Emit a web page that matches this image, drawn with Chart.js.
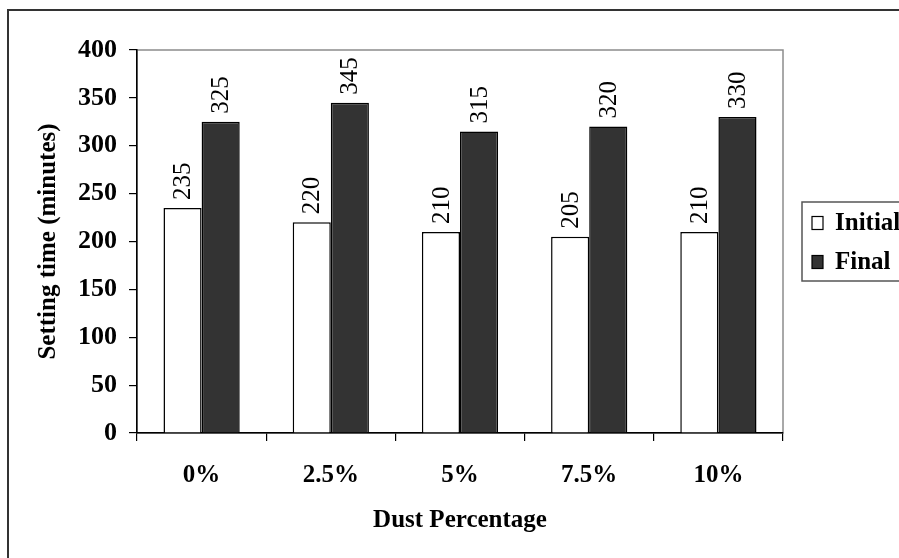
<!DOCTYPE html>
<html>
<head>
<meta charset="utf-8">
<script src="https://cdn.jsdelivr.net/npm/chart.js@4/dist/chart.umd.min.js"></script>
<style>
  body { margin: 0; background: #fff; }
</style>
</head>
<body>
<canvas id="chart" width="899" height="558"></canvas>
<script>
// data
const categories = ['0%', '2.5%', '5%', '7.5%', '10%'];
const initialTimes = [235, 220, 210, 205, 210];
const finalTimes = [325, 345, 315, 320, 330];
const yTicks = [0, 50, 100, 150, 200, 250, 300, 350, 400];

const serif = "'Liberation Serif', 'Times New Roman', serif";

// white page, outer frame and grey plot border
const framePlugin = {
  id: 'frame',
  beforeDraw(chart) {
    const ctx = chart.ctx, a = chart.chartArea;
    ctx.save();
    ctx.fillStyle = '#fff';
    ctx.fillRect(0, 0, chart.width, chart.height);
    ctx.strokeStyle = '#333';
    ctx.lineWidth = 2;
    ctx.beginPath();
    ctx.moveTo(8, chart.height + 5);
    ctx.lineTo(8, 10);
    ctx.lineTo(chart.width + 5, 10);
    ctx.stroke();
    ctx.strokeStyle = '#8c8c8c';
    ctx.lineWidth = 1.5;
    ctx.strokeRect(a.left, a.top, a.right - a.left, a.bottom - a.top);
    ctx.restore();
  }
};

// vertical value labels above each bar
const valueLabels = {
  id: 'valueLabels',
  afterDatasetsDraw(chart) {
    const ctx = chart.ctx;
    ctx.save();
    ctx.fillStyle = '#000';
    ctx.font = '25px ' + serif;
    ctx.textAlign = 'left';
    ctx.textBaseline = 'middle';
    chart.data.datasets.forEach((ds, i) => {
      chart.getDatasetMeta(i).data.forEach((bar, j) => {
        ctx.save();
        ctx.translate(bar.x, bar.y - 8);
        ctx.rotate(-Math.PI / 2);
        ctx.fillText(String(ds.data[j]), 0, 1);
        ctx.restore();
      });
    });
    ctx.restore();
  }
};

// legend box on the right, partly cut off by the page edge
const boxLegend = {
  id: 'boxLegend',
  afterDraw(chart) {
    const ctx = chart.ctx, a = chart.chartArea;
    const x0 = a.right + 19;
    const y0 = (a.top + a.bottom) / 2 - 39.5;
    ctx.save();
    ctx.strokeStyle = '#555';
    ctx.lineWidth = 1.5;
    ctx.fillStyle = '#fff';
    ctx.fillRect(x0, y0, 200, 79);
    ctx.strokeRect(x0, y0, 200, 79);
    ctx.font = 'bold 25px ' + serif;
    ctx.textBaseline = 'middle';
    chart.data.datasets.forEach((ds, i) => {
      const cy = y0 + 21 + i * 39;
      ctx.fillStyle = ds.backgroundColor;
      ctx.fillRect(x0 + 10, cy - 6.5, 11, 13);
      ctx.strokeStyle = '#000';
      ctx.lineWidth = 1.2;
      ctx.strokeRect(x0 + 10, cy - 6.5, 11, 13);
      ctx.fillStyle = '#000';
      ctx.fillText(ds.label, x0 + 33, cy + 1);
    });
    ctx.restore();
  }
};

new Chart(document.getElementById('chart'), {
  type: 'bar',
  data: {
    labels: categories,
    datasets: [
      {
        label: 'Initial',
        data: initialTimes,
        backgroundColor: '#ffffff',
        borderColor: '#000',
        borderWidth: 1.5,
        categoryPercentage: 0.59,
        barPercentage: 1.0
      },
      {
        label: 'Final',
        data: finalTimes,
        backgroundColor: '#333333',
        borderColor: '#000',
        borderWidth: 1.5,
        categoryPercentage: 0.59,
        barPercentage: 1.0
      }
    ]
  },
  options: {
    responsive: false,
    animation: false,
    layout: { padding: { left: 0, top: 50, right: 116, bottom: 0 } },
    plugins: {
      legend: { display: false },
      tooltip: { enabled: false }
    },
    scales: {
      x: {
        afterFit: (scale) => { scale.height = 125; },
        grid: { offset: true, drawOnChartArea: false, tickLength: 8, color: '#000', lineWidth: 1.2 },
        border: { color: '#000', width: 1.5 },
        ticks: { color: '#000', padding: 20, font: { family: serif, size: 25, weight: 'bold' } },
        title: {
          display: true,
          text: 'Dust Percentage',
          color: '#000',
          padding: { top: 0, bottom: 22 },
          font: { family: serif, size: 25, weight: 'bold' }
        }
      },
      y: {
        min: 0,
        max: 400,
        afterFit: (scale) => { scale.width = 137; },
        afterBuildTicks: (scale) => { scale.ticks = yTicks.map(v => ({ value: v })); },
        grid: { drawOnChartArea: false, tickLength: 8, color: '#000', lineWidth: 1.2 },
        border: { color: '#000', width: 1.5 },
        ticks: { color: '#000', padding: 12, font: { family: serif, size: 26, weight: 'bold' } },
        title: {
          display: true,
          text: 'Setting time (minutes)',
          color: '#000',
          padding: { top: 34, bottom: 0 },
          font: { family: serif, size: 25, weight: 'bold' }
        }
      }
    }
  },
  plugins: [framePlugin, valueLabels, boxLegend]
});
</script>
</body>
</html>
